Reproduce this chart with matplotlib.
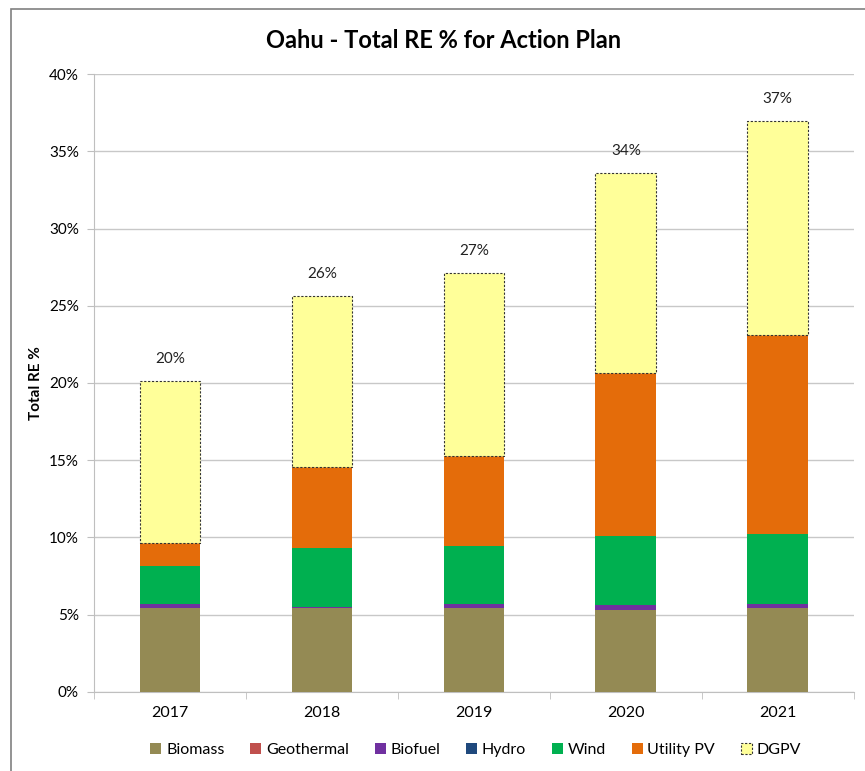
import matplotlib
matplotlib.use("Agg")
import matplotlib.pyplot as plt
from matplotlib.patches import Rectangle, Patch
import numpy as np

plt.rcParams['font.family'] = ['Lato', 'DejaVu Sans']

years = ['2017', '2018', '2019', '2020', '2021']
sources = ['Biomass', 'Geothermal', 'Biofuel', 'Hydro', 'Wind', 'Utility PV', 'DGPV']
colors = ['#948A54', '#C0504D', '#7030A0', '#1F497D', '#00B050', '#E46C0A', '#FFFF99']

# share of total sales, in percent
biomass = [5.46, 5.44, 5.45, 5.33, 5.44]
geothermal = [0.0, 0.0, 0.0, 0.0, 0.0]
biofuel = [0.24, 0.08, 0.25, 0.30, 0.28]
hydro = [0.0, 0.0, 0.0, 0.0, 0.0]
wind = [2.46, 3.80, 3.75, 4.47, 4.51]
utility_pv = [1.48, 5.24, 5.82, 10.55, 12.87]
dgpv = [10.49, 11.07, 11.85, 12.92, 13.86]

series = [biomass, geothermal, biofuel, hydro, wind, utility_pv, dgpv]

fig = plt.figure(figsize=(8.65, 7.71), dpi=100)
ax = fig.add_axes([0.1087, 0.1025, 0.8783, 0.8015])

x = np.arange(len(years))
bottom = np.zeros(len(years))
for name, vals, col in zip(sources, series, colors):
    vals = np.array(vals)
    if name == 'DGPV':
        ax.bar(x, vals, 0.4, bottom=bottom, color=col, edgecolor='#333333',
               linestyle=(0, (2, 1.5)), linewidth=0.8, zorder=3)
    else:
        ax.bar(x, vals, 0.4, bottom=bottom, color=col, linewidth=0, zorder=3)
    bottom += vals

for xi, tot in zip(x, bottom):
    ax.text(xi, tot + 1.0, '{:.0f}%'.format(tot), ha='center', va='bottom',
            fontsize=11, color='#222222')

ax.set_xlim(-0.5, len(years) - 0.5)
ax.set_ylim(0, 40)
ax.set_yticks(np.arange(0, 41, 5))
ax.set_yticklabels(['{}%'.format(v) for v in range(0, 41, 5)], fontsize=11)
ax.set_xticks(x)
ax.set_xticklabels(years, fontsize=11.5)
ax.set_xticks(np.arange(-0.5, len(years)), minor=True)
ax.tick_params(axis='x', which='major', length=0, pad=10)
ax.tick_params(axis='x', which='minor', length=5, color='#BFBFBF', direction='out')
ax.tick_params(axis='y', length=5, color='#BFBFBF', direction='out', pad=6)

ax.grid(axis='y', color='#C8C8C8', linewidth=1, zorder=0)
ax.set_axisbelow(True)
for side in ['top', 'right']:
    ax.spines[side].set_visible(False)
for side in ['left', 'bottom']:
    ax.spines[side].set_color('#BFBFBF')

ax.set_ylabel('Total RE %', fontsize=11, fontweight='bold', labelpad=4)
fig.text(0.513, 0.948, 'Oahu - Total RE % for Action Plan', ha='center',
         va='center', fontsize=17, fontweight='bold')

handles = []
for name, col in zip(sources, colors):
    if name == 'DGPV':
        handles.append(Patch(facecolor=col, edgecolor='#333333',
                             linestyle=(0, (2, 1.5)), linewidth=0.8, label=name))
    else:
        handles.append(Patch(facecolor=col, edgecolor='none', label=name))
fig.legend(handles=handles, loc='center', bbox_to_anchor=(0.55, 0.027), ncol=7,
           frameon=False, fontsize=11.5, handlelength=0.7, handleheight=0.7,
           handletextpad=0.3, columnspacing=1.6)

# chart area border
fig.patches.append(Rectangle((0.0127, -0.1), 1.2, 1.088, transform=fig.transFigure,
                             fill=False, edgecolor='#808080', linewidth=1.2))

fig.savefig('out.png', dpi=100)
